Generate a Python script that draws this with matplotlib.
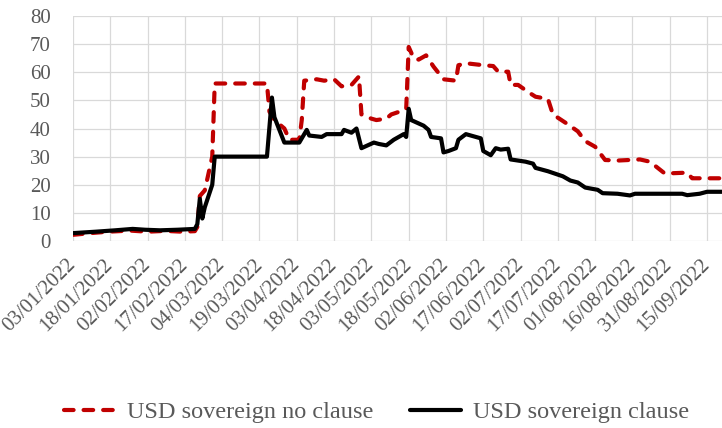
import pandas as pd
import numpy as np
import matplotlib
matplotlib.use('Agg')
import matplotlib.pyplot as plt
import matplotlib.dates as mdates

# USD sovereign bonds without the clause (red dashed)
no_clause_dates = ['2022-01-03', '2022-01-10', '2022-01-17', '2022-01-26', '2022-02-02',
                   '2022-02-09', '2022-02-16', '2022-02-21', '2022-02-22', '2022-02-23',
                   '2022-02-25', '2022-02-28', '2022-03-01', '2022-03-22', '2022-03-23',
                   '2022-03-25', '2022-03-29', '2022-03-31', '2022-04-04', '2022-04-05',
                   '2022-04-06', '2022-04-11', '2022-04-14', '2022-04-18', '2022-04-21',
                   '2022-04-25', '2022-04-27', '2022-04-28', '2022-04-29', '2022-05-03',
                   '2022-05-05', '2022-05-09', '2022-05-11', '2022-05-16', '2022-05-17',
                   '2022-05-18', '2022-05-20', '2022-05-22', '2022-05-25', '2022-05-28',
                   '2022-06-01', '2022-06-06', '2022-06-07', '2022-06-10', '2022-06-16',
                   '2022-06-21', '2022-06-23', '2022-06-27', '2022-06-28', '2022-07-01',
                   '2022-07-05', '2022-07-08', '2022-07-13', '2022-07-15', '2022-07-21',
                   '2022-07-25', '2022-07-28', '2022-08-01', '2022-08-05', '2022-08-10',
                   '2022-08-19', '2022-08-23', '2022-08-29', '2022-09-07', '2022-09-09',
                   '2022-09-22']
no_clause_values = [2.2, 2.8, 3.3, 3.7, 3.3,
                    3.6, 3.3, 3.5, 5.0, 16.0,
                    18.0, 30.0, 56.0, 56.0, 46.0,
                    43.0, 40.0, 36.0, 36.0, 43.0,
                    57.0, 57.5, 57.0, 57.5, 55.0,
                    55.5, 57.5, 58.5, 45.0, 43.5,
                    43.0, 43.5, 45.0, 46.5, 47.0,
                    69.0, 65.0, 64.5, 66.0, 62.0,
                    57.5, 57.0, 62.5, 63.2, 62.6,
                    62.2, 60.2, 60.2, 55.5, 55.5,
                    53.0, 51.3, 50.5, 45.0, 41.5,
                    39.0, 35.5, 33.5, 28.8, 28.6,
                    29.0, 28.2, 24.0, 24.3, 22.3,
                    22.3]

# USD sovereign bonds with the clause (black solid)
clause_dates = ['2022-01-03', '2022-01-12', '2022-01-20', '2022-01-27', '2022-02-01',
                '2022-02-07', '2022-02-14', '2022-02-21', '2022-02-22', '2022-02-23',
                '2022-02-24', '2022-02-25', '2022-02-28', '2022-03-01', '2022-03-22',
                '2022-03-24', '2022-03-25', '2022-03-29', '2022-04-04', '2022-04-06',
                '2022-04-07', '2022-04-08', '2022-04-13', '2022-04-15', '2022-04-21',
                '2022-04-22', '2022-04-25', '2022-04-27', '2022-04-29', '2022-05-04',
                '2022-05-06', '2022-05-09', '2022-05-12', '2022-05-16', '2022-05-17',
                '2022-05-18', '2022-05-19', '2022-05-24', '2022-05-26', '2022-05-27',
                '2022-05-31', '2022-06-01', '2022-06-03', '2022-06-06', '2022-06-07',
                '2022-06-10', '2022-06-14', '2022-06-16', '2022-06-17', '2022-06-20',
                '2022-06-22', '2022-06-24', '2022-06-27', '2022-06-28', '2022-07-04',
                '2022-07-07', '2022-07-08', '2022-07-13', '2022-07-19', '2022-07-22',
                '2022-07-25', '2022-07-28', '2022-08-02', '2022-08-04', '2022-08-10',
                '2022-08-15', '2022-08-17', '2022-09-05', '2022-09-07', '2022-09-12',
                '2022-09-15', '2022-09-22']
clause_values = [2.8, 3.3, 3.8, 4.3, 4.0,
                 3.8, 4.0, 4.3, 6.0, 15.0,
                 8.0, 12.0, 20.0, 30.0, 30.0,
                 51.0, 44.0, 35.0, 35.0, 38.0,
                 39.5, 37.5, 37.0, 38.0, 38.0,
                 39.5, 38.5, 40.0, 33.0, 35.0,
                 34.5, 34.0, 36.0, 38.0, 37.0,
                 47.0, 43.0, 41.0, 39.5, 37.0,
                 36.5, 31.5, 32.0, 33.0, 36.0,
                 38.0, 37.0, 36.5, 32.0, 30.5,
                 33.0, 32.5, 32.8, 29.0, 28.2,
                 27.5, 26.0, 24.8, 23.0, 21.5,
                 20.8, 19.0, 18.2, 17.0, 16.8,
                 16.2, 16.8, 16.8, 16.3, 16.8,
                 17.5, 17.5]

series_labels = ['USD sovereign no clause', 'USD sovereign clause']

no_clause = pd.Series(no_clause_values, index=pd.to_datetime(no_clause_dates))
clause = pd.Series(clause_values, index=pd.to_datetime(clause_dates))

plt.rcParams['font.family'] = ['Liberation Serif', 'DejaVu Serif']
grey = '#595959'

fig = plt.figure(figsize=(7.22, 4.28), dpi=100)
ax = fig.add_axes([73/722, 1 - 241/428, 649/722, 225/428])

ax.plot(no_clause.index, no_clause.values, color='#C00000', lw=3,
        linestyle=(0, (2.3, 2.4)), dash_capstyle='round', label=series_labels[0])
ax.plot(clause.index, clause.values, color='black', lw=3,
        solid_capstyle='round', label=series_labels[1])

start = pd.Timestamp('2022-01-03')
ax.set_xlim(start, start + pd.Timedelta(days=261))
ax.set_ylim(0, 80)
ax.set_yticks(range(0, 81, 10))

# ticks every 15 days like the excel date axis
ax.set_xticks(pd.date_range(start, periods=18, freq='15D'))
ax.xaxis.set_major_formatter(mdates.DateFormatter('%d/%m/%Y'))
plt.setp(ax.get_xticklabels(), rotation=45, ha='right', va='center',
         rotation_mode='anchor')

ax.tick_params(axis='both', length=0, colors=grey, labelsize=15)
ax.tick_params(axis='x', pad=15)
ax.tick_params(axis='y', pad=16)

ax.grid(True, color='#d9d9d9', lw=0.9)
ax.set_axisbelow(True)
for s in ax.spines.values():
    s.set_visible(False)

leg = fig.legend(loc='center', bbox_to_anchor=(0.522, 0.037), ncol=2, frameon=False,
                 fontsize=17.5, handlelength=2.1, handletextpad=0.5, columnspacing=1.5)
for t in leg.get_texts():
    t.set_color(grey)

fig.savefig('out.png', dpi=100)
